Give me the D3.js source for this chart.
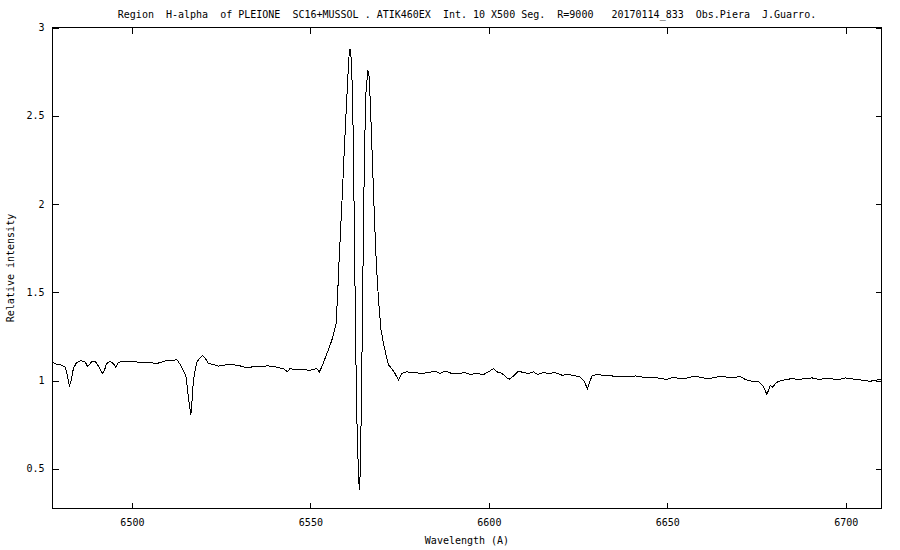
<!DOCTYPE html>
<html>
<head>
<meta charset="utf-8">
<script src="https://cdn.jsdelivr.net/npm/d3@7"></script>
<style>
  body { margin: 0; background: #fff; }
  svg text { font-family: "DejaVu Sans Mono", monospace; font-size: 10px; fill: #000; }
</style>
</head>
<body>
<svg id="chart" width="900" height="550"></svg>
<script>
// spectrum: wavelength (A) / relative intensity
var wavelength = [
  6477.8, 6478.9, 6480.3, 6481.3, 6481.9, 6482.5, 6482.9, 6483.6, 6484.5, 6485.7,
  6486.9, 6487.6, 6488.7, 6489.7, 6490.6, 6491.1, 6491.7, 6492.3, 6492.9, 6493.9,
  6494.8, 6495.5, 6496.2, 6497.6, 6499.5, 6501.3, 6503.2, 6505.1, 6506.9, 6508.4,
  6509.8, 6511.2, 6512.6, 6513.5, 6514.4, 6515.2, 6515.6, 6516.1, 6516.5, 6516.8,
  6517.2, 6517.7, 6518.3, 6519.1, 6519.8, 6520.5, 6521.4, 6522.8, 6524.2, 6525.6,
  6528.0, 6530.3, 6532.2, 6533.6, 6535.4, 6537.8, 6539.6, 6541.5, 6542.4, 6543.6,
  6544.3, 6545.7, 6547.1, 6549.9, 6550.8, 6551.8, 6552.5, 6553.2, 6554.1, 6555.0,
  6556.0, 6556.6, 6557.2, 6557.6, 6558.0, 6558.5, 6559.0, 6559.4, 6559.9, 6560.4,
  6560.8, 6561.1, 6561.5, 6561.8, 6562.1, 6562.3, 6562.6, 6562.9, 6563.2, 6563.5,
  6563.7, 6564.0, 6564.3, 6564.6, 6564.9, 6565.3, 6565.6, 6566.1, 6566.5, 6566.9,
  6567.4, 6567.9, 6568.3, 6568.8, 6569.3, 6569.8, 6570.5, 6571.2, 6571.9, 6572.8,
  6573.7, 6574.7, 6575.6, 6577.0, 6579.3, 6581.2, 6583.1, 6584.9, 6586.3, 6587.8,
  6589.6, 6591.5, 6593.4, 6594.8, 6596.6, 6598.5, 6599.9, 6601.3, 6602.3, 6603.7,
  6605.1, 6605.7, 6606.9, 6608.3, 6609.7, 6611.1, 6612.5, 6613.7, 6615.3, 6616.7,
  6618.6, 6620.5, 6622.3, 6624.2, 6625.6, 6626.5, 6627.2, 6627.6, 6628.1, 6628.9,
  6630.3, 6632.1, 6634.0, 6635.4, 6637.3, 6639.1, 6641.0, 6642.9, 6644.7, 6647.1,
  6648.5, 6649.9, 6651.7, 6653.6, 6655.9, 6657.3, 6659.2, 6661.1, 6663.0, 6664.8,
  6666.7, 6668.6, 6670.4, 6671.8, 6673.7, 6675.6, 6676.8, 6677.4, 6677.9, 6678.4,
  6678.8, 6679.6, 6680.2, 6681.2, 6682.1, 6683.5, 6684.9, 6686.8, 6688.7, 6690.5,
  6692.4, 6694.3, 6696.1, 6698.0, 6699.9, 6701.7, 6703.6, 6705.0, 6706.9, 6708.3,
  6710.0
];
var intensity = [
  1.102, 1.092, 1.087, 1.077, 1.030, 0.969, 0.992, 1.068, 1.102, 1.113,
  1.105, 1.079, 1.105, 1.109, 1.083, 1.064, 1.040, 1.058, 1.096, 1.109,
  1.096, 1.074, 1.102, 1.109, 1.105, 1.105, 1.102, 1.102, 1.096, 1.105,
  1.115, 1.111, 1.119, 1.091, 1.058, 1.020, 0.945, 0.860, 0.807, 0.870,
  0.992, 1.058, 1.109, 1.128, 1.143, 1.128, 1.096, 1.091, 1.081, 1.087,
  1.091, 1.083, 1.071, 1.077, 1.077, 1.083, 1.081, 1.071, 1.068, 1.049,
  1.068, 1.062, 1.064, 1.058, 1.062, 1.068, 1.049, 1.077, 1.125, 1.172,
  1.228, 1.275, 1.323, 1.473, 1.663, 1.870, 2.078, 2.266, 2.474, 2.682,
  2.832, 2.880, 2.814, 2.606, 2.266, 1.851, 1.379, 0.907, 0.624, 0.473,
  0.379, 0.492, 0.907, 1.379, 1.946, 2.417, 2.644, 2.757, 2.719, 2.512,
  2.229, 1.946, 1.738, 1.549, 1.398, 1.285, 1.210, 1.143, 1.087, 1.068,
  1.040, 1.002, 1.040, 1.049, 1.045, 1.040, 1.045, 1.053, 1.040, 1.053,
  1.040, 1.040, 1.045, 1.034, 1.040, 1.034, 1.049, 1.068, 1.049, 1.040,
  1.015, 1.007, 1.026, 1.053, 1.045, 1.040, 1.049, 1.034, 1.045, 1.040,
  1.045, 1.030, 1.034, 1.026, 1.020, 1.002, 0.973, 0.955, 0.983, 1.026,
  1.034, 1.030, 1.030, 1.020, 1.026, 1.020, 1.026, 1.020, 1.015, 1.015,
  1.011, 1.006, 1.020, 1.009, 1.015, 1.024, 1.019, 1.011, 1.015, 1.024,
  1.019, 1.015, 1.024, 1.006, 0.996, 0.992, 0.968, 0.943, 0.921, 0.949,
  0.973, 0.962, 0.981, 0.996, 1.000, 1.006, 1.011, 1.006, 1.011, 1.015,
  1.006, 1.011, 1.009, 1.006, 1.015, 1.009, 1.006, 1.000, 0.996, 1.002,
  1.006
];

var xTicks = [6500, 6550, 6600, 6650, 6700];
var yTicks = [0.5, 1, 1.5, 2, 2.5, 3];
var xDomain = [6477.75, 6710];
var yDomain = [0.275, 3];

var titleText = "Region  H-alpha  of PLEIONE  SC16+MUSSOL . ATIK460EX  Int. 10 X500 Seg.  R=9000   20170114_833  Obs.Piera  J.Guarro.";

var svg = d3.select("#chart"),
    margin = {left: 52.5, top: 27.5, right: 18.5, bottom: 41.5},
    width = 900 - margin.left - margin.right,
    height = 550 - margin.top - margin.bottom;

var g = svg.append("g").attr("transform", "translate(" + margin.left + "," + margin.top + ")");

var x = d3.scaleLinear().domain(xDomain).range([0, width]);
var y = d3.scaleLinear().domain(yDomain).range([height, 0]);

// frame
g.append("rect")
  .attr("width", width).attr("height", height)
  .attr("fill", "none").attr("stroke", "#000")
  .attr("shape-rendering", "crispEdges");

function styleAxis(sel) {
  sel.attr("font-family", null).attr("font-size", null);
  sel.select(".domain").remove();
  sel.selectAll(".tick line").attr("stroke", "#000").attr("shape-rendering", "crispEdges");
}

// ticks point inward, mirrored on top and right like gnuplot
g.append("g")
  .attr("transform", "translate(0," + height + ")")
  .call(d3.axisBottom(x).tickValues(xTicks).tickSizeInner(-6).tickSizeOuter(0).tickPadding(10)
    .tickFormat(function(d) { return d; }))
  .call(styleAxis);

g.append("g")
  .call(d3.axisTop(x).tickValues(xTicks).tickSizeInner(-6).tickSizeOuter(0).tickFormat(""))
  .call(styleAxis);

g.append("g")
  .call(d3.axisLeft(y).tickValues(yTicks).tickSizeInner(-6).tickSizeOuter(0).tickPadding(8)
    .tickFormat(function(d) { return d; }))
  .call(styleAxis);

g.append("g")
  .attr("transform", "translate(" + width + ",0)")
  .call(d3.axisRight(y).tickValues(yTicks).tickSizeInner(-6).tickSizeOuter(0).tickFormat(""))
  .call(styleAxis);

var data = wavelength.map(function(w, i) { return [w, intensity[i]]; });

var line = d3.line()
  .x(function(d) { return x(d[0]); })
  .y(function(d) { return y(d[1]); });

// gnuplot's png output is not antialiased
g.append("path")
  .datum(data)
  .attr("d", line)
  .attr("fill", "none")
  .attr("stroke", "#000")
  .attr("stroke-width", 1)
  .attr("shape-rendering", "crispEdges");

// labels
svg.append("text")
  .attr("x", margin.left + width / 2)
  .attr("y", 18)
  .attr("text-anchor", "middle")
  .style("white-space", "pre")
  .text(titleText);

svg.append("text")
  .attr("x", margin.left + width / 2)
  .attr("y", 544)
  .attr("text-anchor", "middle")
  .text("Wavelength (A)");

svg.append("text")
  .attr("transform", "translate(14," + (margin.top + height / 2) + ") rotate(-90)")
  .attr("text-anchor", "middle")
  .text("Relative intensity");
</script>
</body>
</html>
